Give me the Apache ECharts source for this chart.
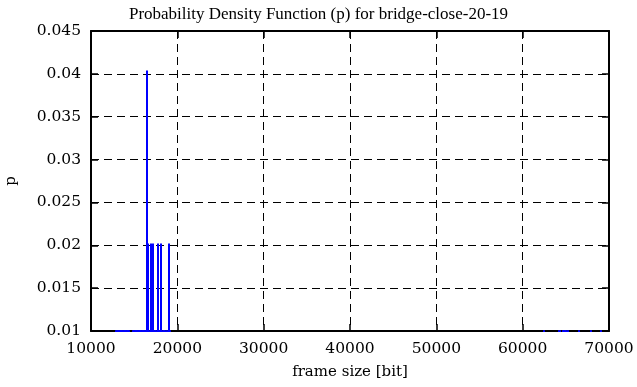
<!DOCTYPE html>
<html>
<head>
<meta charset="utf-8">
<script src="https://cdn.jsdelivr.net/npm/echarts@6/dist/echarts.min.js"></script>
<style>html,body{margin:0;padding:0;background:#fff}#c{width:637px;height:387px}</style>
</head>
<body>
<div id="c"></div>
<script>
// frame sizes [bit] and probabilities p (impulses)
const frameSize = [
  12900, 13000,
  13170, 13260, 13350, 13440, 13530, 13620, 13710, 13800, 13890, 13980, 14070, 14160, 14250, 14340, 14430,
  14910, 15000, 15090, 15180, 15270, 15360, 15450, 15540, 15630, 15720, 15810, 15900, 15990, 16080, 16170, 16260, 16350,
  16454, 16605, 16918, 17185, 17706, 18146, 18980,
  16750, 17050, 17330, 17450, 17580, 17850, 17980, 18300, 18450, 18600, 18750, 19100,
  62490, 64190, 64340, 64650, 64780, 64900, 65050, 65300, 66470, 67900, 69060
];
const prob = [
  0.0101, 0.0101,
  0.0101, 0.0101, 0.0101, 0.0101, 0.0101, 0.0101, 0.0101, 0.0101, 0.0101, 0.0101, 0.0101, 0.0101, 0.0101, 0.0101, 0.0101,
  0.0101, 0.0101, 0.0101, 0.0101, 0.0101, 0.0101, 0.0101, 0.0101, 0.0101, 0.0101, 0.0101, 0.0101, 0.0101, 0.0101, 0.0101, 0.0101, 0.0101,
  0.0404, 0.0202, 0.0202, 0.0202, 0.0202, 0.0202, 0.0202,
  0.0101, 0.0101, 0.0101, 0.0101, 0.0101, 0.0101, 0.0101, 0.0101, 0.0101, 0.0101, 0.0101, 0.0101,
  0.0101, 0.0101, 0.0101, 0.0101, 0.0101, 0.0101, 0.0101, 0.0101, 0.0101, 0.0101, 0.0101
];
const xTicks = [10000, 20000, 30000, 40000, 50000, 60000, 70000];
const yTicks = [0.01, 0.015, 0.02, 0.025, 0.03, 0.035, 0.04, 0.045];

const titleText = 'Probability Density Function (p) for bridge-close-20-19';
const xName = 'frame size [bit]';
const yName = 'p';

const serifTitle = '"Liberation Serif", serif';
const serifTick = '"DejaVu Serif", serif';

const yMin = yTicks[0], yMax = yTicks[yTicks.length - 1];
const xMin = xTicks[0], xMax = xTicks[xTicks.length - 1];

const data = frameSize.map((x, i) => [x, prob[i]]);

const chart = echarts.init(document.getElementById('c'), null, {renderer: 'canvas'});

const gridLine = {show: true, lineStyle: {color: '#000', width: 1, type: [8, 5]}};
const axLine = {show: true, onZero: false, lineStyle: {color: '#000', width: 2}};
const tick = {show: true, inside: true, length: 7, lineStyle: {color: '#000', width: 1.5}};

chart.setOption({
  animation: false,
  backgroundColor: '#fff',
  title: {
    text: titleText,
    left: 'center',
    top: 1,
    textStyle: {fontFamily: serifTitle, fontWeight: 'normal', fontSize: 17, color: '#000'}
  },
  grid: {left: 91, right: 28, top: 31, bottom: 56, containLabel: false, outerBoundsMode: 'none'},
  xAxis: [{
    type: 'value', min: xMin, max: xMax, interval: 10000, position: 'bottom',
    name: xName, nameLocation: 'middle', nameGap: 34,
    nameTextStyle: {fontFamily: serifTick, fontSize: 15, color: '#000'},
    axisLine: axLine, axisTick: tick, splitLine: gridLine,
    axisLabel: {fontFamily: serifTick, fontSize: 15.5, color: '#000', margin: 10,
      formatter: v => String(v)}
  }, {
    type: 'value', min: xMin, max: xMax, interval: 10000, position: 'top',
    axisLine: axLine, axisTick: tick, splitLine: {show: false}, axisLabel: {show: false}
  }],
  yAxis: [{
    type: 'value', min: yMin, max: yMax, interval: 0.005, position: 'left',
    name: yName, nameLocation: 'middle', nameGap: 72, nameRotate: 90,
    nameTextStyle: {fontFamily: serifTick, fontSize: 15, color: '#000'},
    axisLine: axLine, axisTick: tick, splitLine: gridLine,
    axisLabel: {fontFamily: serifTick, fontSize: 15.5, color: '#000', margin: 10,
      formatter: v => String(+v.toFixed(3))}
  }, {
    type: 'value', min: yMin, max: yMax, interval: 0.005, position: 'right',
    axisLine: axLine, axisTick: tick, splitLine: {show: false}, axisLabel: {show: false}
  }],
  series: [{
    type: 'custom',
    xAxisIndex: 0, yAxisIndex: 0,
    clip: false,
    z: 10,
    data: data,
    renderItem: function (params, api) {
      const x = api.value(0), y = api.value(1);
      const top = api.coord([x, Math.min(Math.max(y, yMin), yMax)]);
      const base = api.coord([x, yMin]);
      const px = Math.round(top[0]);
      return {
        type: 'line',
        shape: {x1: px, y1: base[1] + 1, x2: px, y2: top[1]},
        style: {stroke: '#0000ff', lineWidth: 2}
      };
    }
  }]
});
</script>
</body>
</html>
